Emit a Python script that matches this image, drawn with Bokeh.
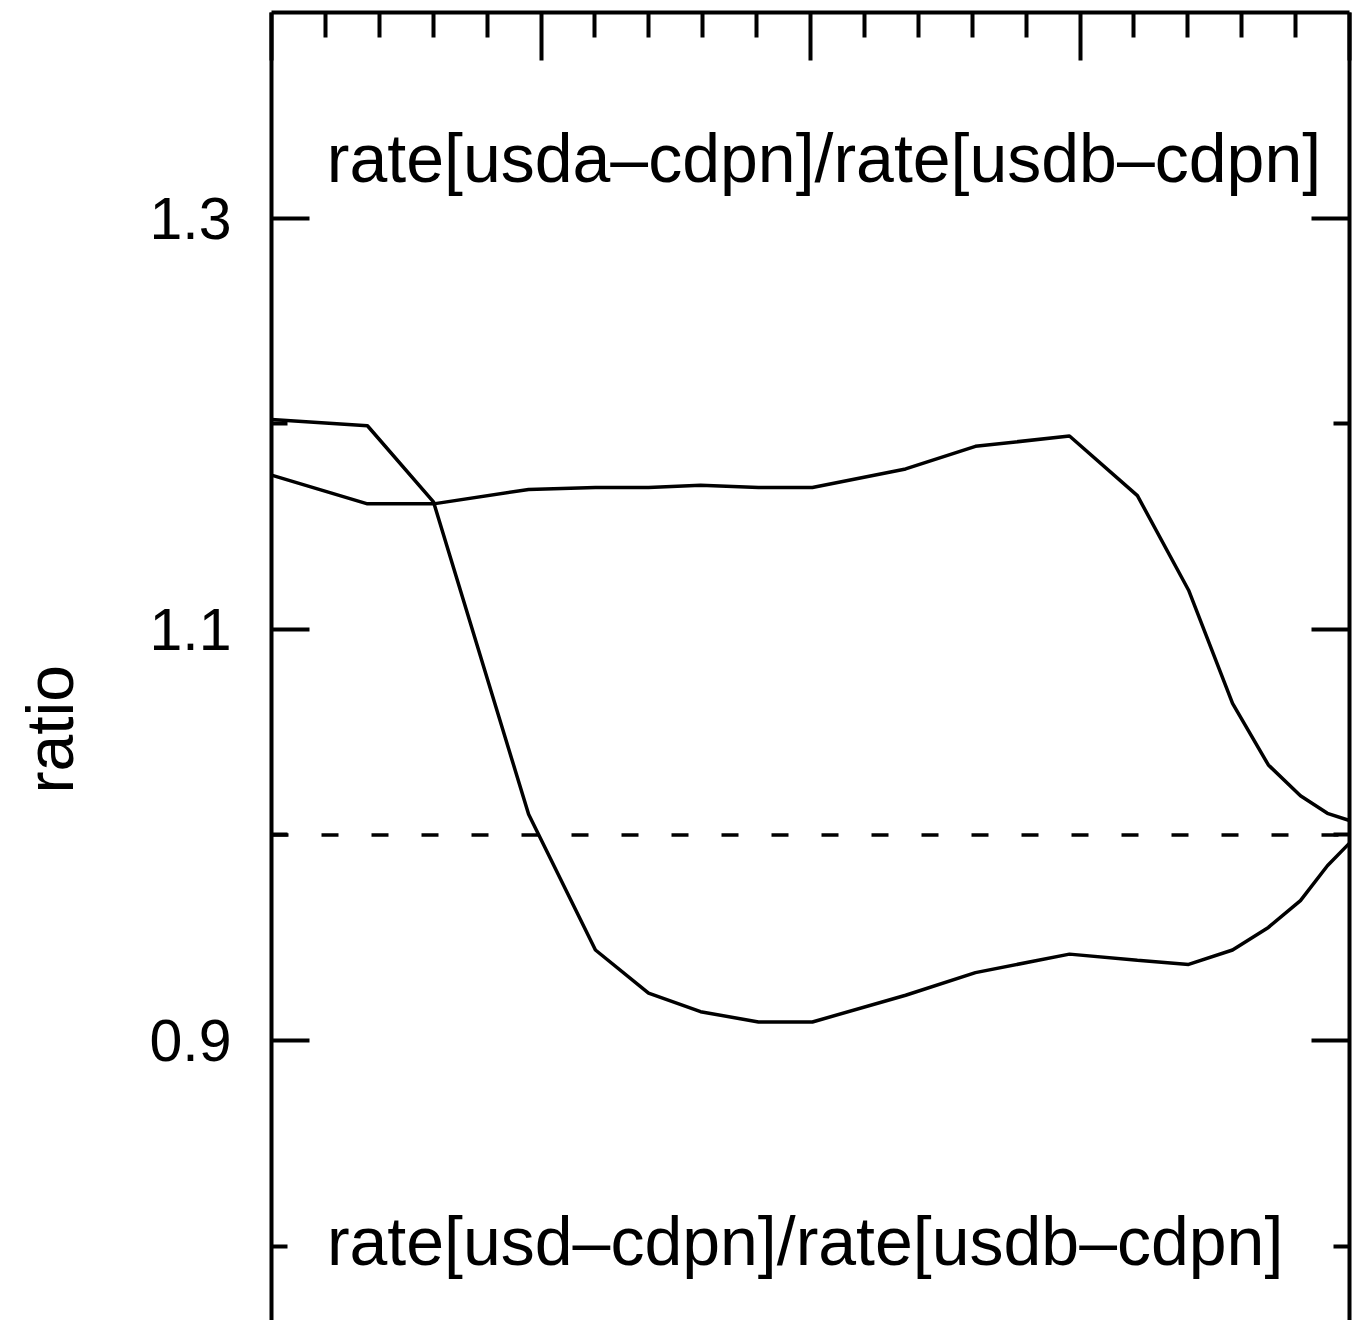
import math
from bokeh.plotting import figure
from bokeh.models import FixedTicker, Span, Label, LinearAxis, Range1d, Title
from bokeh.embed import file_html
from bokeh.resources import INLINE

# ---- data ----
x_vals = [0.0, 0.356, 0.601, 0.954, 1.202, 1.399, 1.592, 1.807, 2.007, 2.353,
          2.612, 2.961, 3.213, 3.403, 3.566, 3.699, 3.818, 3.918, 4.0]
ratio_usd = [1.202, 1.199, 1.162, 1.010, 0.944, 0.923, 0.914, 0.909, 0.909, 0.922,
             0.933, 0.942, 0.939, 0.937, 0.944, 0.955, 0.968, 0.985, 0.996]
ratio_usda = [1.175, 1.161, 1.161, 1.168, 1.169, 1.169, 1.170, 1.169, 1.169, 1.178,
              1.189, 1.194, 1.165, 1.119, 1.064, 1.034, 1.019, 1.0105, 1.007]
ref_value = 1.0
y_major_ticks = [0.9, 1.1, 1.3]
y_minor_ticks = [0.8, 1.0, 1.2]
x_major_ticks = [0, 1, 2, 3, 4]
x_minor_ticks = [0.2, 0.4, 0.6, 0.8, 1.2, 1.4, 1.6, 1.8, 2.2, 2.4, 2.6, 2.8,
                 3.2, 3.4, 3.6, 3.8]
label_top = "rate[usda\u2013cdpn]/rate[usdb\u2013cdpn]"
label_bottom = "rate[usd\u2013cdpn]/rate[usdb\u2013cdpn]"
y_title = "ratio"

FONT = "Liberation Sans"

p = figure(width=1361, height=1320, output_backend="svg", toolbar_location=None,
           x_range=Range1d(0, 4), y_range=Range1d(0.7638, 1.4),
           x_axis_location=None, y_axis_location=None,
           min_border_left=271, min_border_right=12, min_border_top=12,
           min_border_bottom=0)
p.outline_line_color = None
p.grid.visible = False
p.background_fill_color = "white"
p.border_fill_color = "white"

def style_axis(ax, major_in, minor_in):
    ax.axis_line_width = 4
    ax.axis_line_color = "black"
    ax.major_tick_line_width = 4
    ax.minor_tick_line_width = 4
    ax.major_tick_line_color = "black"
    ax.minor_tick_line_color = "black"
    ax.major_tick_in = major_in
    ax.major_tick_out = 0
    ax.minor_tick_in = minor_in
    ax.minor_tick_out = 0

yt = FixedTicker(ticks=y_major_ticks, minor_ticks=y_minor_ticks)
xt = FixedTicker(ticks=x_major_ticks, minor_ticks=x_minor_ticks)

left = LinearAxis(ticker=yt)
style_axis(left, 38, 16)
left.major_label_text_font = FONT
left.major_label_text_font_size = "59px"
left.major_label_text_color = "black"
left.major_label_standoff = 40
p.add_layout(left, "left")

# invisible spacer panel between the tick labels and the axis title
spacer = LinearAxis(ticker=FixedTicker(ticks=[ref_value], minor_ticks=[]))
spacer.axis_line_color = None
spacer.major_tick_line_alpha = 0
spacer.minor_tick_line_color = None
spacer.major_label_text_color = None
spacer.major_tick_in = 0
spacer.major_tick_out = 48
spacer.minor_tick_out = 0
spacer.major_label_standoff = 0
p.add_layout(spacer, "left")

right = LinearAxis(ticker=yt)
style_axis(right, 38, 16)
right.major_label_text_color = None
right.major_label_standoff = 0
p.add_layout(right, "right")

top = LinearAxis(ticker=xt)
style_axis(top, 48, 25)
top.major_label_text_color = None
top.major_label_standoff = 0
p.add_layout(top, "above")

p.line(x_vals, ratio_usd, line_color="black", line_width=3.5)
p.line(x_vals, ratio_usda, line_color="black", line_width=3.5)

p.add_layout(Span(location=ref_value, dimension="width", line_color="black",
                  line_width=3.5, line_dash="17 33"))

p.add_layout(Label(x=2.05, y=1.329, text=label_top, text_font=FONT,
                   text_font_size="68px", text_align="center",
                   text_baseline="middle", text_color="black"))
p.add_layout(Label(x=1.98, y=0.8027, text=label_bottom, text_font=FONT,
                   text_font_size="68px", text_align="center",
                   text_baseline="middle", text_color="black"))

ttl = Title(text=y_title, align="left", vertical_align="top", offset=527,
            standoff=20, text_font=FONT, text_font_size="66px",
            text_font_style="normal", text_color="black")
p.add_layout(ttl, "left")

open("out.html", "w").write(file_html(p, INLINE))
